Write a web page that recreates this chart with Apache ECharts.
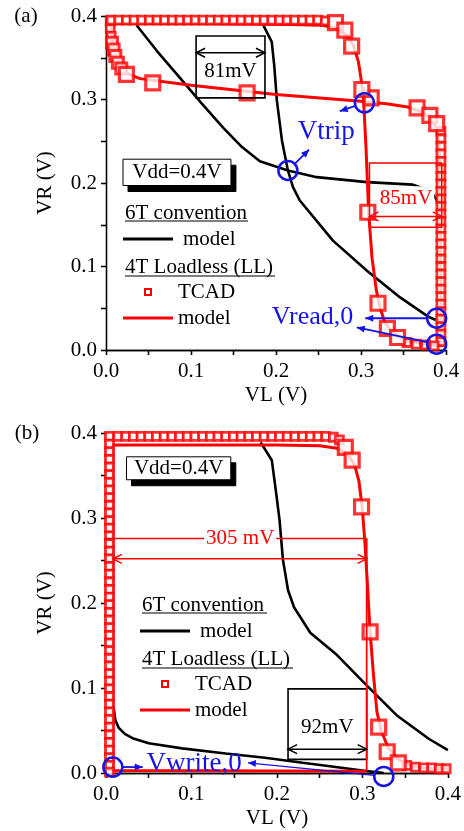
<!DOCTYPE html>
<html>
<head>
<meta charset="utf-8">
<script src="https://cdn.jsdelivr.net/npm/echarts@6/dist/echarts.min.js"></script>
<style>
  html, body { margin: 0; padding: 0; background: #fff; }
  #chart { width: 464px; height: 831px; }
</style>
</head>
<body>
<div id="chart"></div>
<script>
// ---------- axis ticks ----------
const axisMin = 0, axisMax = 0.4, tickStep = 0.05;
const tickLabels = ['0.0', '0.1', '0.2', '0.3', '0.4'];

// ---------- (a) read butterfly: [VL, VR] in volts ----------
const sixTReadLeft = [[0.036,0.389],[0.060,0.358],[0.087,0.326],[0.112,0.296],[0.138,0.266],[0.160,0.243],[0.181,0.226],[0.214,0.215],[0.248,0.207],[0.307,0.201],[0.361,0.198],[0.375,0.193],[0.385,0.186],[0.390,0.178]];
const sixTReadRight = [[0.185,0.389],[0.195,0.369],[0.198,0.340],[0.201,0.299],[0.207,0.251],[0.214,0.215],[0.220,0.195],[0.228,0.179],[0.267,0.131],[0.307,0.095],[0.346,0.063],[0.379,0.040],[0.388,0.036]];
const llReadModelA = [[0.005,0.392],[0.007,0.375],[0.009,0.362],[0.012,0.350],[0.016,0.340],[0.023,0.332],[0.040,0.325],[0.100,0.317],[0.200,0.306],[0.300,0.298],[0.330,0.295],[0.355,0.291],[0.372,0.285],[0.383,0.277],[0.389,0.265],[0.392,0.245],[0.393,0.200],[0.394,0.100],[0.394,0.004]];
const llReadModelB = [[0.005,0.391],[0.100,0.391],[0.200,0.390],[0.255,0.389],[0.272,0.385],[0.283,0.377],[0.291,0.365],[0.297,0.345],[0.300,0.325],[0.303,0.300],[0.306,0.240],[0.309,0.165],[0.313,0.110],[0.318,0.072],[0.322,0.052],[0.328,0.033],[0.338,0.020],[0.352,0.012],[0.370,0.008],[0.394,0.005]];
const llReadTcadEdge = [
  [0.005,0.394],[0.005,0.385],[0.006,0.376],
  [0.006,0.395],[0.015,0.395],[0.024,0.395],[0.033,0.395],[0.042,0.395],[0.051,0.395],[0.060,0.395],[0.069,0.395],[0.078,0.395],[0.087,0.395],
  [0.096,0.395],[0.105,0.395],[0.114,0.395],[0.123,0.395],[0.132,0.395],[0.141,0.395],[0.150,0.395],[0.159,0.395],[0.168,0.395],[0.177,0.395],
  [0.186,0.395],[0.195,0.395],[0.204,0.395],[0.213,0.395],[0.222,0.395],[0.231,0.395],[0.240,0.395],[0.249,0.395],[0.258,0.394],
  [0.394,0.262],[0.394,0.253],[0.394,0.244],[0.394,0.235],[0.394,0.226],[0.394,0.217],[0.394,0.208],[0.394,0.199],[0.394,0.190],[0.394,0.181],
  [0.394,0.172],[0.394,0.163],[0.394,0.154],[0.394,0.145],[0.394,0.136],[0.394,0.127],[0.394,0.118],[0.394,0.109],[0.394,0.100],[0.394,0.091],
  [0.394,0.082],[0.394,0.073],[0.394,0.064],[0.394,0.055],[0.394,0.046],[0.394,0.037],[0.394,0.028],[0.394,0.019],[0.394,0.010],
  [0.354,0.009],[0.365,0.007],[0.376,0.006],[0.386,0.005]
];
const llReadTcadCorner = [[0.007,0.368],[0.009,0.360],[0.011,0.352],[0.014,0.344],[0.018,0.337]];
const llReadTcadKnee = [[0.024,0.330],[0.055,0.320],[0.166,0.308],[0.312,0.302],[0.366,0.290],[0.381,0.281],[0.389,0.271],
  [0.270,0.392],[0.281,0.383],[0.289,0.364],[0.301,0.312],[0.308,0.165],[0.320,0.056],[0.331,0.026],[0.343,0.015]];

// ---------- (b) write butterfly ----------
const sixTWriteUpper = [[0.181,0.389],[0.194,0.368],[0.199,0.330],[0.203,0.298],[0.207,0.251],[0.213,0.215],[0.220,0.195],[0.239,0.165],[0.270,0.139],[0.305,0.103],[0.340,0.068],[0.378,0.040],[0.400,0.027]];
const sixTWriteLower = [[0.009,0.076],[0.011,0.062],[0.015,0.053],[0.022,0.046],[0.031,0.041],[0.050,0.035],[0.089,0.029],[0.140,0.023],[0.186,0.018],[0.230,0.012],[0.262,0.008],[0.300,0.003],[0.325,0.000]];
const llWriteModelA = [[0.008,0.387],[0.008,0.003],[0.304,0.002]];
const llWriteModelB = [[0.008,0.386],[0.100,0.386],[0.200,0.386],[0.250,0.385],[0.270,0.382],[0.283,0.375],[0.291,0.362],[0.296,0.343],[0.300,0.310],[0.303,0.270],[0.306,0.220],[0.309,0.166],[0.313,0.115],[0.317,0.072],[0.322,0.050],[0.330,0.030],[0.342,0.016],[0.356,0.009],[0.372,0.006],[0.400,0.005]];
const llWriteTcadEdge = [
  [0.004,0.396],[0.004,0.387],[0.004,0.378],[0.004,0.369],[0.004,0.360],[0.004,0.351],[0.004,0.342],[0.004,0.333],[0.004,0.324],[0.004,0.315],
  [0.004,0.306],[0.004,0.297],[0.004,0.288],[0.004,0.279],[0.004,0.270],[0.004,0.261],[0.004,0.252],[0.004,0.243],[0.004,0.234],[0.004,0.225],
  [0.004,0.216],[0.004,0.207],[0.004,0.198],[0.004,0.189],[0.004,0.180],[0.004,0.171],[0.004,0.162],[0.004,0.153],[0.004,0.144],[0.004,0.135],
  [0.004,0.126],[0.004,0.117],[0.004,0.108],[0.004,0.099],[0.004,0.090],[0.004,0.081],[0.004,0.072],[0.004,0.063],[0.004,0.054],[0.004,0.045],
  [0.004,0.036],[0.004,0.027],[0.004,0.018],[0.004,0.009],[0.004,0.001],
  [0.014,0.396],[0.023,0.396],[0.032,0.396],[0.041,0.396],[0.050,0.396],[0.059,0.396],[0.068,0.396],[0.077,0.396],[0.086,0.396],[0.095,0.396],
  [0.104,0.396],[0.113,0.396],[0.122,0.396],[0.131,0.396],[0.140,0.396],[0.149,0.396],[0.158,0.396],[0.167,0.396],[0.176,0.396],[0.185,0.396],
  [0.194,0.396],[0.203,0.396],[0.212,0.396],[0.221,0.396],[0.230,0.396],[0.239,0.396],[0.248,0.396],[0.257,0.396],[0.266,0.395],[0.273,0.392],
  [0.352,0.009],[0.362,0.007],[0.372,0.006],[0.381,0.006],[0.390,0.005],[0.398,0.005]
];
const llWriteTcadKnee = [[0.280,0.383],[0.288,0.368],[0.299,0.313],[0.309,0.166],[0.319,0.054],[0.329,0.025],[0.342,0.012]];

// ---------- margins stated on the plot (mV) ----------
const readMargins = [81, 85];
const writeMargins = [305, 92];

const FONT = "'Liberation Serif', 'Times New Roman', serif";
const RED = '#ff0000';
const BLUE = '#1414e6';
const BLACK = '#000000';

const chart = echarts.init(document.getElementById('chart'), null, { renderer: 'canvas' });

function tickFmt(v) {
  const r = Math.round(v * 100);
  return r % 10 === 0 ? tickLabels[r / 10] : '';
}

const axisLineStyle = { color: BLACK, width: 1.3 };

function xAxes(gi) {
  return [
    { type: 'value', gridIndex: gi, position: 'bottom', min: axisMin, max: axisMax, interval: tickStep,
      name: 'VL (V)', nameLocation: 'middle', nameGap: 35,
      nameTextStyle: { fontFamily: FONT, fontSize: 21, color: BLACK },
      axisLine: { lineStyle: axisLineStyle }, axisTick: { inside: false, length: 5, lineStyle: axisLineStyle },
      axisLabel: { formatter: tickFmt, fontFamily: FONT, fontSize: 21, color: BLACK, margin: 11 },
      splitLine: { show: false } },
    { type: 'value', gridIndex: gi, position: 'top', min: axisMin, max: axisMax, interval: tickStep,
      axisLine: { lineStyle: axisLineStyle }, axisTick: { inside: true, length: 5, lineStyle: axisLineStyle },
      axisLabel: { show: false }, splitLine: { show: false } }
  ];
}
function yAxes(gi) {
  return [
    { type: 'value', gridIndex: gi, position: 'left', min: axisMin, max: axisMax, interval: tickStep,
      name: 'VR (V)', nameLocation: 'middle', nameGap: 50, nameRotate: 90,
      nameTextStyle: { fontFamily: FONT, fontSize: 21, color: BLACK },
      axisLine: { lineStyle: axisLineStyle }, axisTick: { inside: false, length: 5, lineStyle: axisLineStyle },
      axisLabel: { formatter: tickFmt, fontFamily: FONT, fontSize: 21, color: BLACK, margin: 9 },
      splitLine: { show: false } },
    { type: 'value', gridIndex: gi, position: 'right', min: axisMin, max: axisMax, interval: tickStep,
      axisLine: { lineStyle: axisLineStyle }, axisTick: { inside: true, length: 5, lineStyle: axisLineStyle },
      axisLabel: { show: false }, splitLine: { show: false } }
  ];
}

function curve(data, xi, yi, color, width, z) {
  return { type: 'line', xAxisIndex: xi, yAxisIndex: yi, data: data, showSymbol: false, symbol: 'none',
    lineStyle: { color: color, width: width }, z: z, silent: true };
}
function squares(data, xi, yi, size, bw, z) {
  return { type: 'scatter', xAxisIndex: xi, yAxisIndex: yi, data: data, symbol: 'rect', symbolSize: size,
    itemStyle: { color: '#fff', borderColor: RED, borderWidth: bw }, z: z, silent: true };
}

const option = {
  animation: false,
  backgroundColor: '#fff',
  grid: [
    { left: 106, top: 16, width: 340, height: 334 },
    { left: 106, top: 433, width: 346, height: 340 }
  ],
  xAxis: [...xAxes(0), ...xAxes(1)],
  yAxis: [...yAxes(0), ...yAxes(1)],
  series: [
    curve(sixTReadLeft, 0, 0, BLACK, 2.6, 2),
    curve(sixTReadRight, 0, 0, BLACK, 2.6, 2),
    curve(llReadModelA, 0, 0, RED, 3, 3),
    curve(llReadModelB, 0, 0, RED, 3, 3),
    squares(llReadTcadEdge, 0, 0, 8, 2.8, 4),
    squares(llReadTcadCorner, 0, 0, 11, 3, 4),
    squares(llReadTcadKnee, 0, 0, 14, 3.2, 5),

    curve(sixTWriteUpper, 2, 2, BLACK, 2.6, 2),
    curve(sixTWriteLower, 2, 2, BLACK, 2.6, 2),
    curve(llWriteModelA, 2, 2, RED, 3, 3),
    curve(llWriteModelB, 2, 2, RED, 3, 3),
    squares(llWriteTcadEdge, 2, 2, 8, 2.8, 4),
    squares(llWriteTcadKnee, 2, 2, 14, 3.2, 5)
  ]
};
chart.setOption(option);

// ---------- annotations, placed in data coordinates ----------
function buildGraphics() {
  const g = [];
  const P = (gi, x, y) => chart.convertToPixel({ gridIndex: gi }, [x, y]);
  const seg = (a, b, color, w, z) => g.push({ type: 'line', z: z || 50,
    shape: { x1: a[0], y1: a[1], x2: b[0], y2: b[1] }, style: { stroke: color, lineWidth: w } });
  const box = (a, b, color, w, fill, z) => g.push({ type: 'rect', z: z || 50,
    shape: { x: Math.min(a[0], b[0]), y: Math.min(a[1], b[1]), width: Math.abs(b[0] - a[0]), height: Math.abs(b[1] - a[1]) },
    style: { fill: fill || 'none', stroke: color, lineWidth: w } });
  const head = (tip, from, color, w, len, half, solid) => {
    const dx = from[0] - tip[0], dy = from[1] - tip[1];
    const L = Math.hypot(dx, dy) || 1;
    const ux = dx / L, uy = dy / L, nx = -uy, ny = ux;
    const p1 = [tip[0] + ux * len + nx * half, tip[1] + uy * len + ny * half];
    const p2 = [tip[0] + ux * len - nx * half, tip[1] + uy * len - ny * half];
    if (solid) g.push({ type: 'polygon', z: 62, shape: { points: [p1, tip, p2] }, style: { fill: color } });
    else g.push({ type: 'polyline', z: 62, shape: { points: [p1, tip, p2] }, style: { stroke: color, lineWidth: w, fill: 'none' } });
  };
  const dbl = (a, b, color, w) => { seg(a, b, color, w, 61); head(a, b, color, w, 9, 4.5, false); head(b, a, color, w, 9, 4.5, false); };
  const fromRing = (c, r, tip, color, w) => {
    const dx = tip[0] - c[0], dy = tip[1] - c[1], L = Math.hypot(dx, dy);
    const s = [c[0] + dx / L * r, c[1] + dy / L * r];
    seg(s, tip, color, w, 61); head(tip, s, color, w, 8, 3.5, true);
  };
  const txt = (p, s, size, color, extra) => g.push({ type: 'text', z: 70, x: p[0], y: p[1],
    style: Object.assign({ text: s, font: size + 'px ' + FONT, fill: color,
      align: 'center', verticalAlign: 'middle', textAlign: 'center', textVerticalAlign: 'middle' }, extra || {}) });
  const ring = (p, r, color, w) => g.push({ type: 'circle', z: 65, shape: { cx: p[0], cy: p[1], r: r },
    style: { fill: 'none', stroke: color, lineWidth: w } });
  const shadowBox = (gi, x0, y0, x1, y1, label) => {
    const a = P(gi, x0, y0), b = P(gi, x1, y1);
    box([a[0] + 5, a[1] + 6], [b[0] + 5, b[1] + 6], BLACK, 1, BLACK, 55);
    box(a, b, BLACK, 1, '#fff', 56);
    txt([(a[0] + b[0]) / 2, (a[1] + b[1]) / 2], label, 21, BLACK);
  };

  // panel labels
  txt([26, 16], '(a)', 21, BLACK);
  txt([27, 433], '(b)', 21, BLACK);

  // ---- (a) ----
  const m81 = readMargins[0] / 1000, x81 = 0.106;
  box(P(0, x81, 0.376), P(0, x81 + m81, 0.302), BLACK, 1.6);
  dbl(P(0, x81, 0.356), P(0, x81 + m81, 0.356), BLACK, 1.5);
  txt(P(0, x81 + m81 / 2, 0.333), readMargins[0] + 'mV', 21, BLACK);

  const m85 = readMargins[1] / 1000, x85 = 0.310;
  box(P(0, x85, 0.224), P(0, x85 + m85, 0.147), RED, 1.5);
  dbl(P(0, x85, 0.160), P(0, x85 + m85, 0.160), RED, 1.5);
  txt(P(0, x85 + 0.043, 0.181), readMargins[1] + 'mV', 21, RED, { backgroundColor: '#fff', padding: [2, 2] });

  shadowBox(0, 0.020, 0.2285, 0.147, 0.197, 'Vdd=0.4V');

  const tripB = P(0, 0.214, 0.215), tripR = P(0, 0.304, 0.296);
  ring(tripB, 9.5, BLUE, 2.5); ring(tripR, 9.5, BLUE, 2.5);
  fromRing(tripB, 9.5, P(0, 0.239, 0.240), BLUE, 1.8);
  fromRing(tripR, 9.5, P(0, 0.275, 0.286), BLUE, 1.8);
  txt(P(0, 0.259, 0.261), 'Vtrip', 27, BLUE);

  const rd1 = P(0, 0.389, 0.038), rd2 = P(0, 0.389, 0.007);
  ring(rd1, 9.5, BLUE, 2.5); ring(rd2, 9.5, BLUE, 2.5);
  fromRing(rd1, 9.5, P(0, 0.305, 0.038), BLUE, 1.8);
  fromRing(rd2, 9.5, P(0, 0.295, 0.027), BLUE, 1.8);
  txt(P(0, 0.243, 0.039), 'Vread,0', 26, BLUE);

  // ---- (b) ----
  shadowBox(1, 0.024, 0.372, 0.146, 0.345, 'Vdd=0.4V');

  const m305 = writeMargins[0] / 1000;
  seg(P(1, 0.0, 0.276), P(1, m305, 0.276), RED, 1.5, 52);
  seg(P(1, m305, 0.002), P(1, m305, 0.276), RED, 1.8, 52);
  dbl(P(1, 0.008, 0.252), P(1, m305, 0.252), RED, 1.5);
  txt(P(1, 0.157, 0.276), writeMargins[0] + ' mV', 21, RED, { backgroundColor: '#fff', padding: [0, 2] });

  const m92 = writeMargins[1] / 1000, x92r = 0.305;
  box(P(1, x92r - m92, 0.099), P(1, x92r, 0.016), BLACK, 1.6);
  dbl(P(1, x92r - m92, 0.028), P(1, x92r, 0.028), BLACK, 1.5);
  txt(P(1, x92r - m92 / 2, 0.053), writeMargins[1] + 'mV', 21, BLACK);

  const w1 = P(1, 0.008, 0.007), w2 = P(1, 0.325, -0.004);
  ring(w1, 9.5, BLUE, 2.5); ring(w2, 9.5, BLUE, 2.5);
  fromRing(w1, 9.5, P(1, 0.043, 0.007), BLUE, 1.8);
  fromRing(w2, 9.5, P(1, 0.166, 0.012), BLUE, 1.3);
  txt(P(1, 0.103, 0.011), 'Vwrite,0', 27, BLUE);

  // ---- legends ----
  const legend = (ox, oy, ul1, ul2) => {
    const left = { align: 'left', textAlign: 'left' };
    txt([ox, oy], '6T convention', 21, BLACK, left);
    seg([ox, oy + 8], [ox + ul1, oy + 8], BLACK, 1.2, 70);
    seg([ox - 2, oy + 26], [ox + 48, oy + 26], BLACK, 3, 70);
    txt([ox + 58, oy + 26], 'model', 21, BLACK, left);
    txt([ox, oy + 54], '4T Loadless (LL)', 21, BLACK, left);
    seg([ox, oy + 63], [ox + ul2, oy + 63], BLACK, 1.2, 70);
    g.push({ type: 'rect', z: 70, shape: { x: ox + 20, y: oy + 76, width: 6, height: 6 }, style: { fill: '#fff', stroke: RED, lineWidth: 2 } });
    txt([ox + 53, oy + 79], 'TCAD', 21, BLACK, left);
    seg([ox - 2, oy + 105], [ox + 48, oy + 105], RED, 3, 70);
    txt([ox + 53, oy + 105], 'model', 21, BLACK, left);
  };
  legend(125, 213, 123, 150);
  legend(142, 605, 125, 151);

  return g;
}
chart.setOption({ graphic: buildGraphics() });
</script>
</body>
</html>
